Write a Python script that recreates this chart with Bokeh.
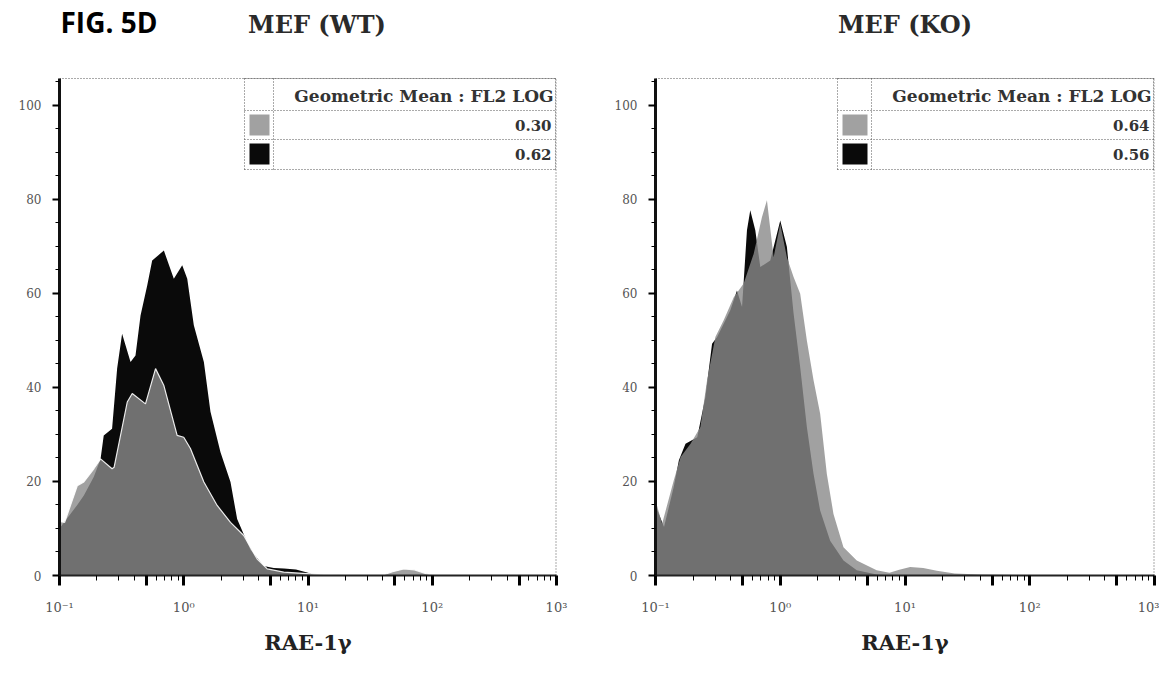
from bokeh.plotting import figure
from bokeh.models import FixedTicker, CustomJSTickFormatter
from bokeh.layouts import row
from bokeh.core.properties import value
from bokeh.embed import file_html
from bokeh.resources import INLINE

# ---------------- data ----------------
fig_label = "FIG. 5D"
panel_titles = ["MEF (WT)", "MEF (KO)"]
x_axis_label = "RAE-1\u03b3"
legend_header = "Geometric Mean : FL2 LOG"
wt_means = ["0.30", "0.62"]   # gray, black
ko_means = ["0.64", "0.56"]   # gray, black

x_tick_values = [0.1, 1, 10, 100, 1000]
x_tick_labels = ["10\u207b\u00b9", "10\u2070", "10\u00b9", "10\u00b2", "10\u00b3"]
x_mid_ticks = [0.5, 5, 50, 500]
y_tick_values = [0, 20, 40, 60, 80, 100]

# WT histogram, black series
wt_x_black = [0.100, 0.139, 0.157, 0.189, 0.214, 0.227, 0.265, 0.291, 0.319, 0.373, 0.409,
              0.449, 0.508, 0.557, 0.692, 0.832, 0.972, 1.067, 1.205, 1.452, 1.641, 1.976,
              2.378, 2.690, 3.440, 4.400, 5.300, 6.400, 8.000, 10.00, 11.50]
wt_y_black = [10, 15, 17, 21, 24.8, 29.8, 31.2, 44, 51.4, 45.4, 46.8,
              55.3, 61.7, 67, 69.1, 63.1, 66, 63.1, 53.2, 45.4, 34.8, 26.2,
              19.9, 12, 5.5, 2, 1.6, 1.5, 1.3, 0.6, 0]
# WT histogram, gray series
wt_x_gray = [0.100, 0.110, 0.139, 0.157, 0.189, 0.214, 0.265, 0.275, 0.351, 0.385, 0.492,
             0.593, 0.692, 0.885, 1.000, 1.132, 1.452, 1.858, 2.378, 3.040, 3.900, 4.700,
             6.380, 10.50, 20.0, 40.0, 48.0, 59.0, 72.0, 89.0, 100.0, 1000.0]
wt_y_gray = [11.5, 11.3, 19.1, 19.9, 22.7, 24.8, 22.7, 23, 36.9, 38.7, 36.5,
             44, 40.4, 29.8, 29.4, 27, 19.9, 14.9, 11.3, 8.5, 3.5, 1.4,
             0.7, 0.35, 0.1, 0.1, 0.8, 1.4, 1.2, 0.4, 0.1, 0]

# KO histogram, black series
ko_x_black = [0.100, 0.117, 0.140, 0.154, 0.174, 0.216, 0.251, 0.284, 0.312, 0.398, 0.450,
              0.494, 0.541, 0.575, 0.631, 0.692, 0.832, 1.000, 1.130, 1.279, 1.445, 1.634,
              1.849, 2.089, 2.512, 3.211, 4.105, 5.930, 8.000]
ko_y_black = [14.9, 10.3, 18.8, 24.5, 28, 29.4, 37.9, 49.3, 50.7, 56.4, 60.6,
              57.1, 73.4, 77.7, 73.4, 65.6, 67, 75.5, 69.9, 55.7, 44.3, 31.6,
              21.6, 13.8, 7.4, 3.2, 1.1, 0.2, 0]
# KO histogram, gray series
ko_x_gray = [0.100, 0.113, 0.140, 0.159, 0.191, 0.229, 0.259, 0.302, 0.352, 0.424, 0.509,
             0.612, 0.713, 0.782, 0.885, 1.000, 1.130, 1.279, 1.445, 1.634, 1.849, 2.089,
             2.363, 2.671, 3.211, 4.105, 5.930, 7.5, 9.0, 11.0, 14.0, 18.0, 25.0, 40.0,
             100.0, 1000.0]
ko_y_gray = [16, 11, 20.2, 25.2, 28, 31.6, 41.5, 50.7, 54.3, 59.2, 62.1,
             68.4, 76.2, 79.8, 67.7, 74.8, 67.7, 63.5, 59.9, 50, 41.5, 34.4,
             21.6, 13.1, 6, 3.2, 1.1, 0.6, 1.2, 1.8, 1.6, 1.0, 0.4, 0.2,
             0.1, 0]

# ---------------- style / layout ----------------
X_MIN, X_MAX = 0.1, 1000.0
PLOT_H = 497            # height of the histogram area in px
TOP_PAD = 78            # space above it (titles), kept inside the frame
Y_MAX = 105.7           # value at the top of the histogram area
Y_TOP = Y_MAX * (PLOT_H + TOP_PAD) / PLOT_H
BLACK = "#0a0a0a"
GRAY = "#898989"
SERIF = "DejaVu Serif"

x_minor = [m * d for d in (0.1, 1, 10, 100) for m in (2, 3, 4, 6, 7, 8, 9)]
y_minor = [v for v in range(0, 106, 5) if v % 20 != 0]


def make_panel(title, xb, yb, xg, yg, means, frame_w, b_left, b_right, white_edge,
               leg_left, leg_div, title_dx):
    p = figure(x_axis_type="log", x_range=(X_MIN, X_MAX), y_range=(0, Y_TOP),
               frame_width=frame_w, frame_height=PLOT_H + TOP_PAD,
               min_border_left=b_left, min_border_right=b_right,
               min_border_top=0, min_border_bottom=109,
               output_backend="svg", toolbar_location=None,
               background_fill_color="white", border_fill_color="white")
    p.xgrid.visible = False
    p.ygrid.visible = False
    p.outline_line_color = None

    W = frame_w

    def X(px):          # px from the frame's left edge -> data x
        return 10 ** (-1 + 4 * px / W)

    def Y(py):          # px below the top of the histogram area -> data y
        return Y_MAX * (1 - py / PLOT_H)

    # histograms
    p.varea(x=xb, y1=0, y2=yb, fill_color=BLACK)
    p.varea(x=xg, y1=0, y2=yg, fill_color=GRAY, fill_alpha=0.8)
    if white_edge:
        p.line(xg, yg, line_color="white", line_width=1.2, line_alpha=0.9)

    # dotted top / right border of the plotting box
    p.multi_line([[X_MIN, X_MAX], [X_MAX, X_MAX]], [[Y_MAX, Y_MAX], [0, Y_MAX]],
                 line_color="#555555", line_dash="1 2", line_width=[1, 2])

    # x axis
    xa = p.xaxis[0]
    xa.ticker = FixedTicker(ticks=sorted(x_tick_values + x_mid_ticks), minor_ticks=x_minor)
    xa.formatter = CustomJSTickFormatter(
        args=dict(vals=x_tick_values, labs=x_tick_labels),
        code="for (let i = 0; i < vals.length; i++) { if (Math.abs(vals[i] - tick) < 1e-9 * vals[i]) return labs[i]; } return '';")
    xa.axis_line_width = 2
    xa.axis_line_color = "#222222"
    xa.major_tick_in = 0
    xa.major_tick_out = 10
    xa.major_tick_line_width = 3
    xa.minor_tick_in = 0
    xa.minor_tick_out = 5
    xa.minor_tick_line_width = 1
    xa.major_label_standoff = 14
    xa.major_label_text_font = SERIF
    xa.major_label_text_font_size = "13px"
    xa.major_label_text_color = "#555555"
    xa.axis_label = x_axis_label
    xa.axis_label_text_font = SERIF
    xa.axis_label_text_font_style = "bold"
    xa.axis_label_text_font_size = "21px"
    xa.axis_label_text_color = "#222222"
    xa.axis_label_standoff = 12

    # y axis
    ya = p.yaxis[0]
    ya.ticker = FixedTicker(ticks=y_tick_values, minor_ticks=y_minor)
    ya.bounds = (0, Y_MAX)
    ya.axis_line_width = 3
    ya.axis_line_color = "#111111"
    ya.major_tick_in = 0
    ya.major_tick_out = 7
    ya.major_tick_line_width = 2
    ya.minor_tick_in = 0
    ya.minor_tick_out = 4
    ya.minor_tick_line_width = 1
    ya.major_label_standoff = 11
    ya.major_label_text_font = SERIF
    ya.major_label_text_font_size = "12px"
    ya.major_label_text_color = "#555555"

    # panel title (centred about 54 px above the histogram area)
    p.text(x=[X(W / 2 + title_dx)], y=[Y(-54)], text=[title], text_align="center",
           text_baseline="middle", text_font=value(SERIF), text_font_style="bold",
           text_font_size="24px", text_color="#2a2a2a")

    # legend table in the top-right corner
    rows = [0, 32, 61, 91]
    xs = [[X(leg_left), X(W)] for r in rows]
    ys = [[Y(r), Y(r)] for r in rows]
    for c in (leg_left, leg_div, W - 1):
        xs.append([X(c), X(c)])
        ys.append([Y(0), Y(91)])
    p.multi_line(xs, ys, line_color="#555555", line_dash="1 2", line_width=1)
    p.quad(left=[X(leg_left + 5)], right=[X(leg_div - 4)], top=[Y(36)], bottom=[Y(57)],
           fill_color=GRAY, fill_alpha=0.8, line_color=None)
    p.quad(left=[X(leg_left + 5)], right=[X(leg_div - 4)], top=[Y(65)], bottom=[Y(86)],
           fill_color=BLACK, line_color=None)
    p.text(x=[X(W - 3)], y=[Y(17)], text=[legend_header], text_align="right",
           text_baseline="middle", text_font=value(SERIF), text_font_style="bold",
           text_font_size="17px", text_color="#333333")
    p.text(x=[X(W - 5), X(W - 5)], y=[Y(47), Y(76)], text=means, text_align="right",
           text_baseline="middle", text_font=value(SERIF), text_font_style="bold",
           text_font_size="15px", text_color="#333333")
    return p, X, Y


p1, X1, Y1 = make_panel(panel_titles[0], wt_x_black, wt_y_black, wt_x_gray, wt_y_gray,
                        wt_means, 497, 59, 34, True, 185, 214, 9)
p2, X2, Y2 = make_panel(panel_titles[1], ko_x_black, ko_y_black, ko_x_gray, ko_y_gray,
                        ko_means, 499, 65, 5, False, 182, 216, 0)

# figure label in the top-left corner
p1.text(x=[X1(1)], y=[Y1(-57)], text=[fig_label], text_align="left",
        text_baseline="middle", text_font=value("Open Sans"), text_font_style="bold",
        text_font_size="28px", text_color="#000000")

layout = row(p1, p2)
open("out.html", "w").write(file_html(layout, INLINE))
